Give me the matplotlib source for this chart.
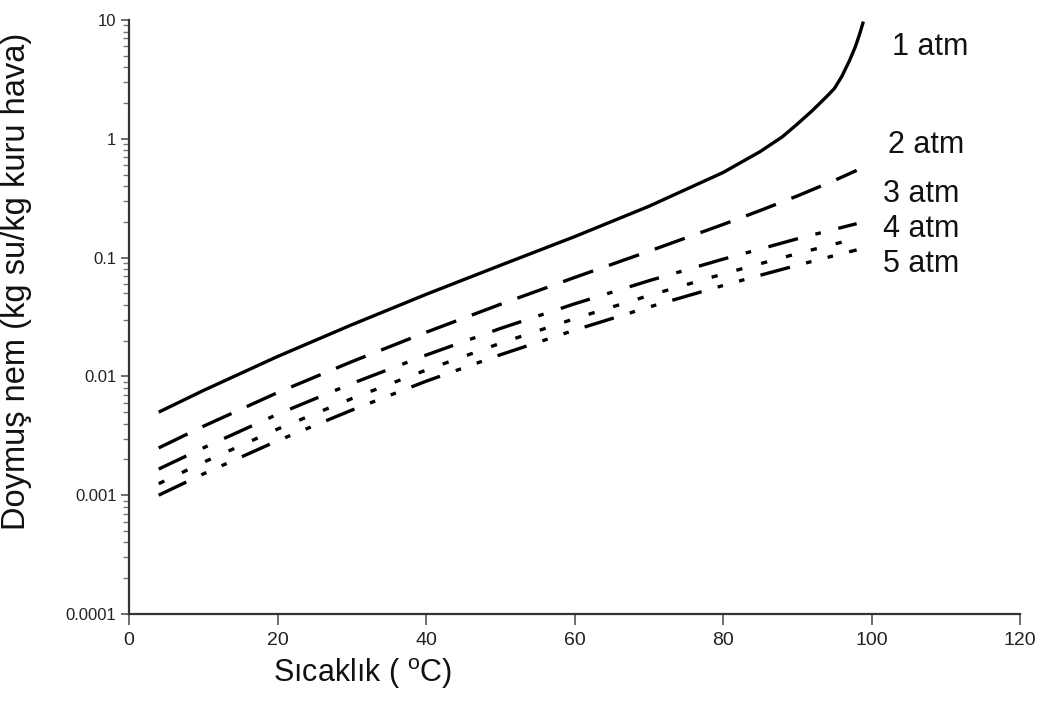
import matplotlib
matplotlib.use("Agg")
import matplotlib.pyplot as plt

plt.rcParams['font.family'] = ['Liberation Sans', 'DejaVu Sans']
plt.rcParams['mathtext.fontset'] = 'custom'
plt.rcParams['mathtext.rm'] = 'Liberation Sans'
plt.rcParams['lines.scale_dashes'] = False

# saturated humidity (kg water / kg dry air)
temp_1 = [4, 10, 20, 30, 40, 50, 60, 70, 80, 85, 88, 90, 92, 93, 94, 95, 96, 97, 97.8, 98.4, 98.9]
hum_1 = [0.0050, 0.0076, 0.0147, 0.0272, 0.049, 0.086, 0.150, 0.27, 0.52, 0.78, 1.04,
         1.33, 1.72, 1.98, 2.28, 2.65, 3.35, 4.5, 5.9, 7.6, 9.7]

temp = [4, 10, 20, 30, 40, 50, 60, 70, 80, 85, 90, 95, 98]
hum_2 = [0.0025, 0.0038, 0.0073, 0.0133, 0.0235, 0.0404, 0.068, 0.113, 0.19, 0.249, 0.33, 0.446, 0.542]
hum_3 = [0.00166, 0.0025, 0.0048, 0.0087, 0.0151, 0.0253, 0.0408, 0.0638, 0.097, 0.118, 0.144, 0.173, 0.193]
hum_4 = [0.00125, 0.00189, 0.0036, 0.0065, 0.0113, 0.019, 0.0306, 0.0479, 0.0728, 0.0888, 0.108, 0.130, 0.145]
hum_5 = [0.00100, 0.00151, 0.00287, 0.0052, 0.0091, 0.0152, 0.0245, 0.0383, 0.0582, 0.071, 0.0862, 0.104, 0.116]

labels = ['1 atm', '2 atm', '3 atm', '4 atm', '5 atm']
label_x = [102.7, 102.2, 101.5, 101.5, 101.5]
label_y = [5.08, 0.755, 0.296, 0.148, 0.076]

yticks = [0.0001, 0.001, 0.01, 0.1, 1, 10]
ytick_labels = ['0.0001', '0.001', '0.01', '0.1', '1', '10']
xticks = [0, 20, 40, 60, 80, 100, 120]

fig = plt.figure(figsize=(10.5, 7.24), dpi=100)
ax = fig.add_axes([129 / 1050, 110 / 724, 891 / 1050, 594 / 724])

lw = 2.4
ax.plot(temp_1, hum_1, color='black', lw=lw, solid_capstyle='butt')
ax.plot(temp, hum_2, color='black', lw=lw, dashes=(23, 12))
ax.plot(temp, hum_3, color='black', lw=lw, dashes=(22, 13, 4, 13))
ax.plot(temp, hum_4, color='black', lw=lw, dashes=(4.5, 14))
ax.plot(temp, hum_5, color='black', lw=lw, dashes=(22, 12, 4, 12, 4, 12))

for txt, x, y in zip(labels, label_x, label_y):
    ax.text(x, y, txt, fontsize=22, ha='left', va='baseline', color='#111111')

ax.set_yscale('log')
ax.set_xlim(0, 120)
ax.set_ylim(0.0001, 10)
ax.set_yticks(yticks)
ax.set_yticklabels(ytick_labels)
ax.set_xticks(xticks)
ax.set_xticklabels([str(v) for v in xticks])

for s in ['top', 'right']:
    ax.spines[s].set_visible(False)
for s in ['left', 'bottom']:
    ax.spines[s].set_color('#333333')
    ax.spines[s].set_linewidth(1.6)

ax.tick_params(axis='y', which='major', direction='out', length=6, width=1.2,
               color='#555555', labelsize=12, labelcolor='#222222', pad=3)
ax.tick_params(axis='y', which='minor', direction='out', length=4, width=1.0, color='#777777')
ax.tick_params(axis='x', which='major', direction='out', length=8, width=1.2,
               color='#555555', labelsize=14, labelcolor='#222222', pad=5)

fig.text(17 / 1050, 1 - 281 / 724, 'Doymuş nem (kg su/kg kuru hava)', rotation=90,
         ha='center', va='center', fontsize=23.5, color='#111111')
fig.text(363 / 1050, 1 - 674 / 724, r'Sıcaklık ( $^{\mathrm{o}}$C)',
         ha='center', va='center', fontsize=22, color='#111111')

fig.savefig('out.png', dpi=100, facecolor='white')
